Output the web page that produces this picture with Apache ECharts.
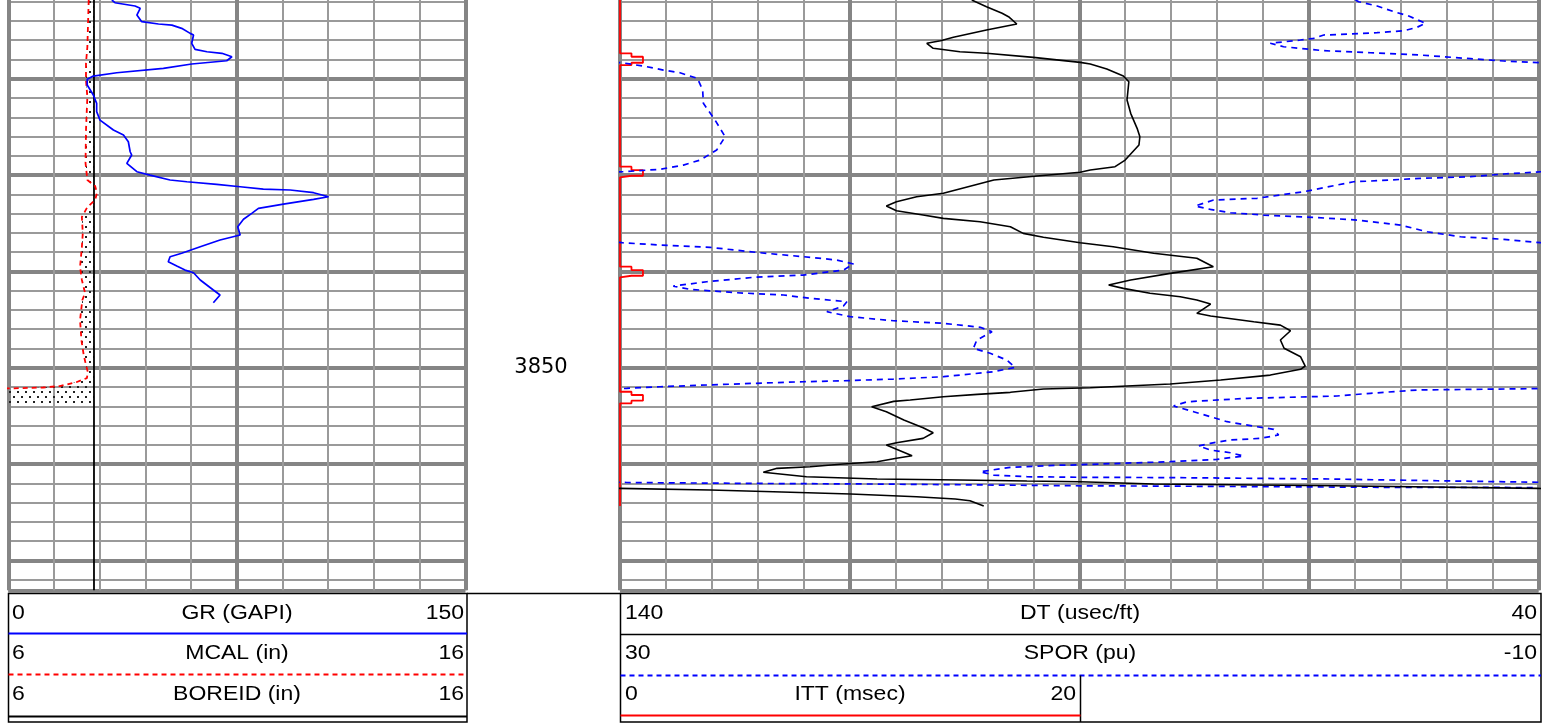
<!DOCTYPE html>
<html>
<head>
<meta charset="utf-8">
<title>Log plot 3812 - 3873 ft</title>
<script src="https://cdn.jsdelivr.net/npm/echarts@6.0.0/dist/echarts.min.js"></script>
<style>
  html, body { margin: 0; padding: 0; background: #fff; }
  #logplot { width: 1544px; height: 723px; }
</style>
</head>
<body>
<div id="logplot"></div>
<script>
// depths in ft (thin grid line = 2 ft, thick = 10 ft)

// GR (GAPI), track 1, scale 0 - 150
const grDepth = [3811.83, 3812.11, 3812.45, 3812.69, 3813.39, 3814.08, 3814.32, 3814.43, 3814.77, 3815.29,
  3815.46, 3816.32, 3816.95, 3817.20, 3817.36, 3817.72, 3818.13, 3818.47, 3818.92, 3819.38,
  3819.72, 3820.06, 3820.65, 3821.69, 3822.55, 3823.42, 3824.29, 3825.32, 3825.84, 3826.54,
  3827.58, 3827.92, 3828.78, 3829.65, 3830.00, 3830.51, 3830.69, 3830.96, 3831.21, 3831.45,
  3831.55, 3831.83, 3832.25, 3832.52, 3833.01, 3833.45, 3833.97, 3834.59, 3835.36, 3836.22,
  3836.74, 3837.44, 3838.12, 3838.48, 3838.99, 3839.44, 3839.86, 3840.14, 3840.89, 3841.93,
  3842.45, 3843.25];
const grApi = [34.0, 35.0, 41.6, 43.3, 42.2, 43.8, 49.3, 53.7, 56.9, 59.7,
  60.8, 60.2, 61.3, 65.2, 70.1, 73.4, 71.7, 60.2, 50.9, 35.6,
  27.9, 25.9, 25.9, 27.9, 29.0, 29.0, 30.1, 34.5, 37.8, 39.4,
  40.0, 40.5, 38.9, 42.2, 46.5, 53.1, 58.6, 68.4, 76.1, 83.7,
  92.5, 100.2, 105.1, 100.2, 90.3, 82.1, 79.9, 77.2, 75.3, 76.1,
  69.5, 63.0, 56.9, 53.1, 52.5, 55.3, 58.0, 60.8, 63.0, 67.3,
  69.5, 67.3];

// MCAL (in), scale 6 - 16
const mcalDepth = [3811.83, 3813.39, 3816.71, 3818.37, 3820.13, 3821.90, 3825.32, 3828.75, 3830.51, 3831.14,
  3831.86, 3832.59, 3833.32, 3834.35, 3836.02, 3837.47, 3839.54, 3840.89, 3842.24, 3842.97,
  3845.05, 3847.12, 3848.68, 3849.72, 3850.44, 3851.07, 3851.48, 3851.90, 3852.05, 3852.21,
  3853.97];
const mcalIn = [7.76, 7.75, 7.73, 7.70, 7.70, 7.73, 7.70, 7.69, 7.73, 7.90,
  7.94, 7.90, 7.73, 7.61, 7.63, 7.61, 7.57, 7.61, 7.68, 7.62,
  7.57, 7.60, 7.65, 7.70, 7.74, 7.72, 7.50, 7.13, 6.76, 5.5,
  5.5];

// BOREID (in), scale 6 - 16
const boreDepth = [3810, 3873.1];
const boreIn = [7.875, 7.875];

// DT (usec/ft), track 2, scale 140 - 40 (wraps past 40)
const dtDepth = [3811.83, 3812.53, 3813.21, 3813.56, 3814.32, 3814.94, 3815.70, 3816.05, 3816.32, 3816.84,
  3817.20, 3817.36, 3817.78, 3818.30, 3818.47, 3818.99, 3819.72, 3820.31, 3822.21, 3823.59,
  3825.15, 3826.02, 3826.88, 3828.44, 3829.13, 3829.48, 3829.71, 3830.10, 3830.51, 3831.89,
  3832.25, 3832.77, 3833.21, 3833.70, 3834.15, 3834.49, 3834.84, 3835.36, 3836.05, 3836.46,
  3837.02, 3837.44, 3838.12, 3838.64, 3839.51, 3840.20, 3840.89, 3841.41, 3841.76, 3842.27,
  3842.63, 3842.97, 3843.39, 3844.35, 3844.63, 3845.22, 3845.57, 3846.16, 3847.12, 3847.98,
  3848.86, 3849.82, 3850.16, 3850.76, 3851.27, 3851.69, 3851.90, 3852.07, 3852.21, 3852.55,
  3852.76, 3853.01, 3853.35, 3853.49, 3854.05, 3854.56, 3855.43, 3856.23, 3856.75, 3857.33,
  3857.78, 3858.02, 3858.47, 3859.13, 3859.40, 3859.75, 3859.99, 3860.27, 3860.44, 3860.85,
  3861.31, 3861.55, 3861.65, 3861.76, 3861.83, 3862.07, 3862.25, 3862.52, 3862.69, 3862.87,
  3863.11, 3863.39, 3863.63, 3863.80, 3864.35];
const dtUs = [101.7, 100.1, 98.4, 97.7, 96.8, 100.1, 103.7, 105.1, 106.6, 105.9,
  103.0, 100.1, 95.0, 89.9, 88.8, 87.0, 85.2, 84.6, 84.8, 84.4,
  83.7, 83.4, 83.5, 85.0, 86.1, 88.8, 89.9, 94.6, 99.3, 104.8,
  107.7, 109.9, 111.0, 109.9, 107.0, 104.8, 100.8, 97.5, 96.1, 93.9,
  89.9, 86.3, 81.9, 77.2, 75.4, 80.1, 84.4, 86.8, 85.2, 82.3,
  79.0, 77.2, 75.7, 77.2, 75.7, 71.0, 68.1, 67.0, 68.1, 67.7,
  65.9, 65.4, 65.9, 69.2, 74.6, 80.1, 84.8, 88.8, 93.9, 97.5,
  101.1, 104.8, 108.4, 110.2, 112.6, 111.0, 109.1, 107.0, 105.9, 107.0,
  109.9, 111.0, 109.9, 108.2, 109.9, 112.0, 115.7, 119.3, 122.9, 124.4,
  119.7, 112.0, 103.0, 95.7, 89.9, 81.9, 62.3, 40.1, 30.2, 23.3,
  14.9, 7.7, 3.5, 1.9, 0.4];

// SPOR (pu), scale 30 - -10 (wraps past -10)
const sporDepth = [3811.83, 3812.01, 3812.45, 3813.04, 3813.49, 3814.25, 3814.66, 3815.02, 3815.22, 3815.36,
  3815.46, 3815.81, 3815.98, 3816.32, 3816.68, 3817.09, 3817.30, 3817.54, 3817.92, 3818.16,
  3818.34, 3818.40, 3818.75, 3819.10, 3819.38, 3819.96, 3821.17, 3822.55, 3824.29, 3826.02,
  3827.40, 3828.44, 3828.96, 3829.40, 3829.65, 3829.71, 3829.89, 3830.17, 3830.34, 3830.62,
  3830.69, 3831.73, 3832.41, 3832.59, 3833.21, 3833.56, 3833.91, 3834.15, 3834.39, 3834.67,
  3835.19, 3835.88, 3836.40, 3836.67, 3837.02, 3837.05, 3837.26, 3837.50, 3838.06, 3838.47,
  3838.82, 3839.23, 3839.86, 3840.38, 3840.61, 3841.07, 3841.52, 3841.86, 3842.21, 3842.45,
  3842.79, 3843.15, 3843.59, 3844.18, 3844.70, 3845.12, 3845.39, 3845.80, 3846.26, 3847.12,
  3847.98, 3848.50, 3849.20, 3849.96, 3850.41, 3850.93, 3851.17, 3851.35, 3851.45, 3851.62,
  3851.79, 3851.97, 3852.14, 3852.16, 3852.31, 3852.65, 3852.93, 3853.01, 3853.17, 3853.53,
  3853.97, 3854.56, 3855.08, 3855.60, 3856.12, 3856.39, 3856.98, 3857.33, 3857.50, 3857.84,
  3858.12, 3858.54, 3858.82, 3859.16, 3859.51, 3859.75, 3859.92, 3860.10, 3860.12, 3860.34,
  3860.79, 3861.14, 3861.31, 3861.37, 3861.40, 3861.55, 3861.73, 3861.89, 3861.91, 3862.00,
  3862.07, 3862.25, 3862.28, 3862.41, 3862.43];
const sporPu = [-2.03, -2.17, -2.97, -3.70, -4.35, -5.08, -4.71, -4.13, -2.97, -1.81,
  -0.65, -0.21, 0.37, 1.68, 1.10, -0.65, -2.68, -4.86, -7.04, -8.49,
  -10.09, -10.14, -11.16, -11.89, -12.61, -13.37, -13.60, -13.63, -14.14, -14.58,
  -14.21, -13.49, -12.76, -11.74, -10.14, -10.09, -8.49, -7.04, -4.86, -2.68,
  -1.95, 0.23, 2.26, 4.15, 4.95, 4.29, 3.42, 1.97, -0.21, -2.10,
  -3.99, -5.15, -6.60, -8.49, -10.09, -10.14, -11.74, -13.92, -16.10, -17.99,
  -19.44, -20.17, -19.73, -17.99, -15.81, -13.78, -12.32, -13.05, -15.08, -17.12,
  -18.28, -19.88, -19.73, -19.01, -20.02, -21.91, -24.09, -25.69, -26.20, -25.54,
  -25.39, -26.12, -26.85, -27.21, -26.27, -24.09, -21.91, -19.73, -17.99, -15.81,
  -13.78, -11.74, -10.29, -10.09, -4.71, -2.68, -1.23, -0.07, 2.69, 5.31,
  5.89, 5.02, 4.29, 3.56, 2.26, 1.53, 1.32, 2.11, 3.42, 4.29,
  4.80, 4.29, 3.42, 2.84, 4.00, 6.03, 8.21, 10.39, 10.97, 13.01,
  14.31, 13.73, 12.28, 9.96, 6.03, -0.94, -5.59, -10.09, -10.29, -15.37,
  -21.19, -30.04, -33.24, -43.26, -49.91];

// ITT (msec), scale 0 - 20 over the left half of track 2
const ittDepth = [3811.83, 3817.36, 3817.36, 3817.72, 3817.72, 3818.34, 3818.34, 3818.58, 3818.58,
  3829.13, 3829.13, 3829.48, 3829.48, 3830.07, 3830.07, 3830.23, 3830.23,
  3839.51, 3839.51, 3839.86, 3839.86, 3840.45, 3840.45, 3840.61, 3840.61,
  3852.49, 3852.49, 3852.83, 3852.83, 3853.42, 3853.42, 3853.69, 3853.69, 3864.35];
const ittMs = [0, 0, 0.5, 0.5, 1.0, 1.0, 0.5, 0.5, 0,
  0, 0.5, 0.5, 1.0, 1.0, 0.5, 0.5, 0,
  0, 0.5, 0.5, 1.0, 1.0, 0.5, 0.5, 0,
  0, 0.5, 0.5, 1.0, 1.0, 0.5, 0.5, 0, 0];

// header rows: [left value, name, right value]
const track1Heads = [['0', 'GR (GAPI)', '150'], ['6', 'MCAL (in)', '16'], ['6', 'BOREID (in)', '16']];
const track2Heads = [['140', 'DT (usec/ft)', '40'], ['30', 'SPOR (pu)', '-10'], ['0', 'ITT (msec)', '20']];

const TOP_FT = 3810, BOTTOM_FT = 3873.1;
const PX_FT = 9.634;
const GRID_TOP = -17.6;
const GRID_H = (BOTTOM_FT - TOP_FT) * PX_FT;
const FONT = '20px "Liberation Sans", Arial, sans-serif';
const STRETCH = 1.15;

const thin = { show: true, lineStyle: { color: '#9a9a9a', width: 2 } };
const thick = { show: true, lineStyle: { color: '#858585', width: 4 } };
const bare = { axisLine: { show: false }, axisTick: { show: false }, axisLabel: { show: false } };

function xAx(grid, min, max, interval, split, inverse) {
  return Object.assign({ type: 'value', gridIndex: grid, min: min, max: max, interval: interval,
    inverse: !!inverse, splitLine: split || { show: false } }, bare);
}
function yAx(grid, interval, split) {
  return Object.assign({ type: 'value', gridIndex: grid, min: TOP_FT, max: BOTTOM_FT, inverse: true,
    interval: interval, splitLine: split || { show: false } }, bare);
}
function pairs(vals, depths, shift) {
  return vals.map(function (v, i) { return [v + (shift || 0), depths[i]]; });
}
function curve(name, x, y, data, color, width, dash) {
  return { type: 'line', name: name, xAxisIndex: x, yAxisIndex: y, data: data, showSymbol: false,
    silent: true, z: 3, lineStyle: { color: color, width: width, type: dash || 'solid' } };
}

// stipple used between MCAL and bit size
const dots = (function () {
  const c = document.createElement('canvas');
  c.width = 8; c.height = 10;
  const g = c.getContext('2d');
  g.fillStyle = '#222';
  g.fillRect(1, 1, 2, 2);
  g.fillRect(5, 6, 2, 2);
  return c;
})();

function headText(x, y, text, align) {
  return { type: 'text', x: x, y: y, scaleX: STRETCH, silent: true,
    style: { text: text, font: FONT, fill: '#000', textAlign: align, textVerticalAlign: 'middle' } };
}
function headLine(x1, y1, x2, y2, color, width, dash) {
  return { type: 'line', silent: true, shape: { x1: x1, y1: y1, x2: x2, y2: y2 },
    style: { stroke: color, lineWidth: width, lineDash: dash || null } };
}

const graphics = [
  { type: 'rect', silent: true, shape: { x: 8.5, y: 593.5, width: 458.5, height: 128.5 },
    style: { fill: '#fff', stroke: '#000', lineWidth: 1.5 } },
  { type: 'rect', silent: true, shape: { x: 620.5, y: 593.5, width: 920.5, height: 128.5 },
    style: { fill: '#fff', stroke: '#000', lineWidth: 1.5 } },
  headLine(467, 593.5, 620.5, 593.5, '#000', 1.5),
  headLine(8.5, 633.5, 467, 633.5, '#0000ff', 2),
  headLine(8.5, 674.5, 467, 674.5, '#ff0000', 2, [5, 4]),
  headLine(8.5, 716.5, 467, 716.5, '#000', 2),
  headLine(620.5, 634.5, 1541, 634.5, '#000', 1.5),
  headLine(620.5, 675.5, 1541, 675.5, '#0000ff', 2, [5, 4]),
  headLine(1080.5, 675.5, 1080.5, 722, '#000', 1.5),
  headLine(620.5, 715.5, 1080.5, 715.5, '#ff0000', 2)
];
const rowsY = [613, 653, 694];
track1Heads.forEach(function (h, i) {
  graphics.push(headText(12, rowsY[i], h[0], 'left'));
  graphics.push(headText(237, rowsY[i], h[1], 'center'));
  graphics.push(headText(464, rowsY[i], h[2], 'right'));
});
track2Heads.forEach(function (h, i) {
  const right = i === 2 ? 1076 : 1537;
  const mid = i === 2 ? 850 : 1080;
  graphics.push(headText(625, rowsY[i], h[0], 'left'));
  graphics.push(headText(mid, rowsY[i], h[1], 'center'));
  graphics.push(headText(right, rowsY[i], h[2], 'right'));
});

const option = {
  animation: false,
  backgroundColor: '#fff',
  grid: [
    { left: 8.3, top: GRID_TOP, width: 457, height: GRID_H, outerBoundsMode: 'none' },
    { left: 620, top: GRID_TOP, width: 918.5, height: GRID_H, outerBoundsMode: 'none' },
    { left: 467, top: GRID_TOP, width: 153, height: GRID_H, outerBoundsMode: 'none' }
  ],
  xAxis: [
    xAx(0, 0, 150, 15, thin),          // 0 GR, thin lines
    xAx(0, 0, 150, 75, thick),         // 1 GR, heavy lines
    xAx(0, 6, 16, null),               // 2 MCAL / BOREID
    xAx(1, 0, 40, 2, thin),            // 3 ITT (0-20 on half the track)
    xAx(1, 0, 40, 10, thick),          // 4 heavy lines
    xAx(1, 40, 140, null, null, true), // 5 DT
    xAx(1, -10, 30, null, null, true), // 6 SPOR
    xAx(2, 0, 1, null)                 // 7 depth track
  ],
  yAxis: [
    yAx(0, 2, thin),
    yAx(0, 10, thick),
    yAx(1, 2, thin),
    yAx(1, 10, thick),
    {
      type: 'value', gridIndex: 2, min: TOP_FT, max: BOTTOM_FT, inverse: true, interval: 10,
      position: 'left', splitLine: { show: false }, axisLine: { show: false }, axisTick: { show: false },
      axisLabel: {
        inside: true, margin: 74, align: 'center', color: '#000', fontSize: 21,
        fontFamily: '"DejaVu Sans", sans-serif',
        formatter: function (v) { return Math.abs(v % 50) < 1e-6 ? String(v) : ''; }
      }
    }
  ],
  series: [
    {
      type: 'custom', xAxisIndex: 2, yAxisIndex: 0, silent: true, z: 1,
      data: [[boreIn[0], mcalDepth[0]]],
      renderItem: function (params, api) {
        const pts = [];
        const bit = boreIn[0];
        for (let i = 0; i < mcalDepth.length; i++) {
          pts.push(api.coord([Math.max(6, Math.min(mcalIn[i], bit)), mcalDepth[i]]));
        }
        for (let i = mcalDepth.length - 1; i >= 0; i--) {
          pts.push(api.coord([bit, mcalDepth[i]]));
        }
        return { type: 'polygon', shape: { points: pts },
          style: { fill: { image: dots, repeat: 'repeat' }, stroke: null } };
      }
    },
    curve('BOREID', 2, 0, pairs(boreIn, boreDepth), '#000', 1.8),
    curve('MCAL', 2, 0, pairs(mcalIn, mcalDepth), '#ff0000', 1.8, [5, 4]),
    curve('GR', 0, 0, pairs(grApi, grDepth), '#0000ff', 1.7),
    curve('ITT', 3, 2, pairs(ittMs, ittDepth), '#ff0000', 1.8),
    curve('SPOR', 6, 2, pairs(sporPu, sporDepth), '#0000ff', 1.7, [6, 5]),
    curve('SPOR wrap', 6, 2, pairs(sporPu, sporDepth, 40), '#0000ff', 1.7, [6, 5]),
    curve('DT', 5, 2, pairs(dtUs, dtDepth), '#000', 1.6),
    curve('DT wrap', 5, 2, pairs(dtUs, dtDepth, 100), '#000', 1.6)
  ],
  graphic: graphics
};

const chart = echarts.init(document.getElementById('logplot'), null, { renderer: 'canvas' });
chart.setOption(option);
</script>
</body>
</html>
